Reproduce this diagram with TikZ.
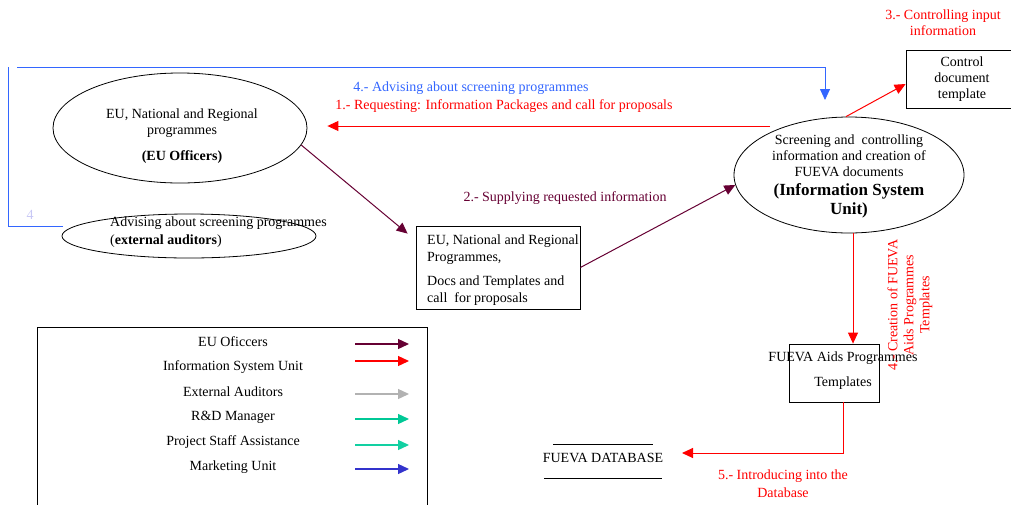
\documentclass[tikz,border=0pt]{standalone}
\usepackage{fontspec}
\setmainfont{Liberation Serif}
\usetikzlibrary{calc,arrows.meta,shapes.geometric}

\definecolor{euc}{HTML}{660033}
\definecolor{isuc}{HTML}{FF0000}
\definecolor{extc}{HTML}{B2B2B2}
\definecolor{rdc}{HTML}{00C896}
\definecolor{psc}{HTML}{12D0A2}
\definecolor{mkc}{HTML}{3333CC}
\definecolor{advc}{HTML}{3366FF}
\definecolor{faintc}{HTML}{C8C8F5}

\newcommand\isufont{\fontsize{17}{20}\selectfont\bfseries}

\tikzset{
  every node/.style={font=\fontsize{14}{16}\selectfont, inner sep=0pt},
  bubble/.style={draw, ellipse, line width=.8pt},
  card/.style={draw, rectangle, line width=.8pt},
  flow/.style={line width=1pt, -{Triangle[length=11pt,width=10pt]}},
}

\begin{document}
\begin{tikzpicture}[x=1pt,y=-1pt]
  \useasboundingbox (0,0) rectangle (1011,504);
  \clip (0,0) rectangle (1011,504);

  % actors and documents
  \node[bubble, minimum width=254, minimum height=110] (euo) at (180,128) {};
  \node[align=center] (euoText) at (182,136)
    {EU, National and Regional\\programmes\\[10pt]\textbf{(EU Officers)}};
  \node[bubble, minimum width=254, minimum height=44] (aud) at (189,236) {};
  \node[align=left, anchor=west] (audText) at (110,232)
    {Advising about screening programmes\\[2pt](\textbf{external auditors})};
  \node[card, minimum width=164, minimum height=83] (docs) at (498,267.5) {};
  \node[align=left, anchor=west] (docsText) at (427,270)
    {EU, National and Regional\\[1pt]Programmes,\\[8pt]Docs and Templates and\\[1pt]call~ for proposals};
  \node[bubble, minimum width=230, minimum height=116] (isu) at (849,175) {};
  \node[align=center] (isuText) at (849,176)
    {Screening and~ controlling\\information and creation of\\FUEVA documents\\[3pt]
     {\isufont (Information System}\\[3pt]{\isufont Unit)}};
  \node[card, minimum width=112, minimum height=58, align=center] (ctrl) at (962,79)
    {Control\\document\\template};
  \node[card, minimum width=90, minimum height=58] (aids) at (834,373) {};
  \node[align=center] (aidsText) at (843,370.5)
    {FUEVA Aids Programmes\\[9pt]Templates};
  \node (db) at (603,458) {FUEVA DATABASE};
  \draw[line width=.8pt] ($(db.center)+(-50,-14)$) -- ++(100,0);
  \draw[line width=.8pt] ($(db.center)+(-59,20)$) -- ++(118,0);

  % 4.- advising loop
  \coordinate (advA) at (63,226);
  \coordinate (advB) at (8,226);
  \coordinate (advC) at (8,67);
  \coordinate (advD) at (17,67);
  \coordinate (advE) at (825,100);
  \draw[advc, line width=.8pt] (advA) -- (advB) -- (advC);
  \draw[flow, advc, line width=.8pt] (advD) -| (advE);
  \node[text=faintc] (advNum) at (30,215) {4};
  \node[text=advc] (advLbl) at (471,88) {4.- Advising about screening programmes};

  % 1.- requesting
  \coordinate (req) at (770,126);
  \draw[flow, isuc, shorten >=20pt] (req) -- (req -| euo.east);
  \node[text=isuc] (reqLbl) at (504,106)
    {1.- Requesting: Information Packages and call for proposals};

  % 2.- supplying
  \draw[flow, euc] (euo.-8) -- ($(docs.north west)+(-8,8)$);
  \draw[flow, euc] (docs.east) -- (isu.185);
  \node[text=euc] (supLbl) at (565,198) {2.- Supplying requested information};

  % 3.- controlling
  \draw[flow, isuc] (isu.93) -- ($(ctrl.west)+(0,5)$);
  \node[text=isuc, align=center] (ctrlLbl) at (943,23)
    {3.- Controlling input\\information};

  % 4.- creation of templates
  \coordinate (cre) at ($(aids.north)+(19,0)$);
  \draw[flow, isuc] (isu.south -| cre) -- (cre);
  \node[text=isuc, align=center, rotate=90] (creLbl) at (910,305)
    {4.- Creation of FUEVA\\Aids Programmes\\Templates};

  % 5.- introducing
  \coordinate (dbIn) at (682,453);
  \draw[flow, isuc] ($(aids.south)+(9,0)$) |- (dbIn);
  \node[text=isuc, align=center] (dbLbl) at (783,484)
    {5.- Introducing into the\\[2pt]Database};

  % legend
  \draw[line width=.8pt] (37,327) rectangle (427,540);
  \foreach \lbl/\col/\ty/\ay [count=\i] in {EU Oficcers/euc/342/344,
      Information System Unit/isuc/367/361, External Auditors/extc/392/394,
      R\&D Manager/rdc/417/419, Project Staff Assistance/psc/442/445,
      Marketing Unit/mkc/467/469}{
    \node (key\i) at (233,\ty) {\lbl};
    \coordinate (tail\i) at (355,\ay);
    \coordinate (tip\i) at (409,\ay);
    \draw[flow, color=\col, line width=1.3pt] (tail\i) -- (tip\i);
  }
\end{tikzpicture}
\end{document}
